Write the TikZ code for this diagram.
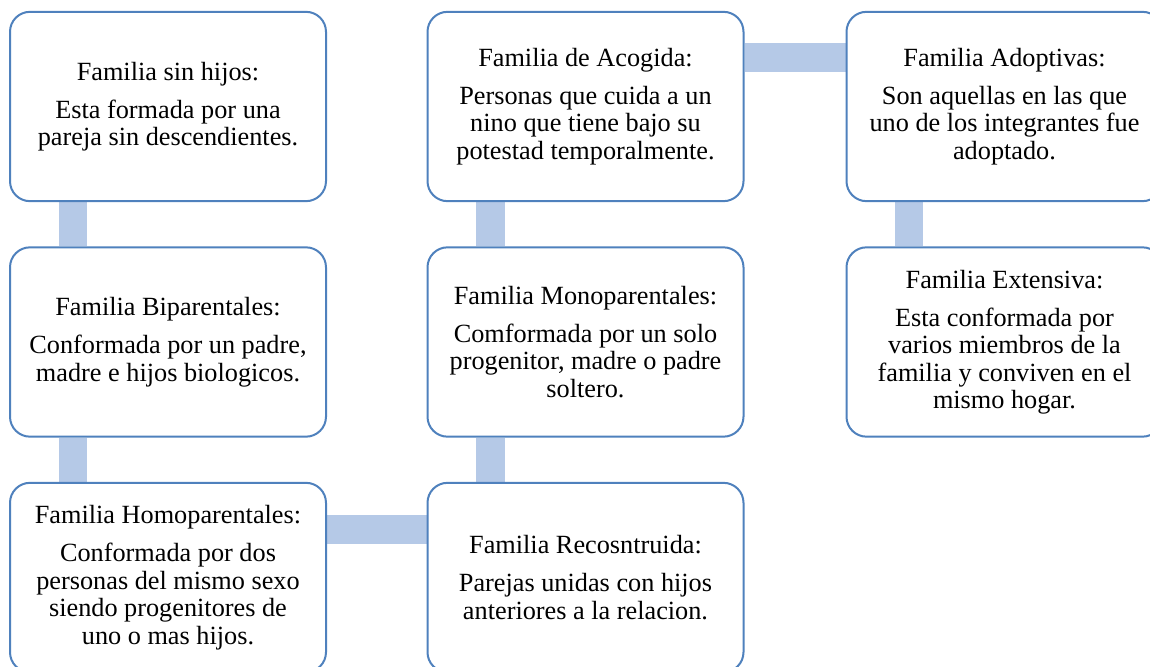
\documentclass[tikz,border=0pt]{standalone}
\usepackage{fontspec}
\setmainfont{Liberation Serif}
\usetikzlibrary{backgrounds}
\definecolor{boxblue}{RGB}{79,129,189}
\definecolor{barblue}{RGB}{181,201,231}
\tikzset{
  famBox/.style={draw=boxblue, line width=1.5pt, fill=white, rounded corners=15pt,
    minimum width=237pt, minimum height=142pt, inner sep=0pt, align=center,
    font=\fontsize{19.7pt}{20.6pt}\selectfont},
  famBar/.style={draw=barblue, line width=21.5pt},
}
\begin{document}
\begin{tikzpicture}[x=0.75pt,y=-0.75pt]
\useasboundingbox (0,0) rectangle (1150,667);
\node[famBox] (sin) at (168,106.5) {Familia sin hijos:\\[7.9pt] Esta formada por una\\ pareja sin descendientes.};
\node[famBox] (bip) at (168,342) {Familia Biparentales:\\[7.9pt] Conformada por un padre,\\ madre e hijos biologicos.};
\node[famBox] (homo) at (168,577.5) {Familia Homoparentales:\\[7.9pt] Conformada por dos\\ personas del mismo sexo\\ siendo progenitores de\\ uno o mas hijos.};
\node[famBox] (acog) at (585.5,106.5) {Familia de Acogida:\\[7.9pt] Personas que cuida a un\\ nino que tiene bajo su\\ potestad temporalmente.};
\node[famBox] (mono) at (585.5,342) {Familia Monoparentales:\\[7.9pt] Comformada por un solo\\ progenitor, madre o padre\\ soltero.};
\node[famBox] (reco) at (585.5,577.5) {Familia Recosntruida:\\[7.9pt] Parejas unidas con hijos\\ anteriores a la relacion.};
\node[famBox] (adop) at (1004.5,106.5) {Familia Adoptivas:\\[7.9pt] Son aquellas en las que\\ uno de los integrantes fue\\ adoptado.};
\node[famBox] (ext) at (1004.5,342) {Familia Extensiva:\\[7.9pt] Esta conformada por\\ varios miembros de la\\ familia y conviven en el\\ mismo hogar.};
\begin{scope}[on background layer]
\draw[famBar] ([xshift=48pt]sin.south west) -- ([xshift=48pt]bip.north west);
\draw[famBar] ([xshift=48pt]bip.south west) -- ([xshift=48pt]homo.north west);
\draw[famBar] ([yshift=-35.6pt]homo.north east) -- ([yshift=-35.6pt]reco.north west);
\draw[famBar] ([xshift=48pt]reco.north west) -- ([xshift=48pt]mono.south west);
\draw[famBar] ([xshift=48pt]mono.north west) -- ([xshift=48pt]acog.south west);
\draw[famBar] ([yshift=-34.9pt]acog.north east) -- ([yshift=-34.9pt]adop.north west);
\draw[famBar] ([xshift=47.5pt]adop.south west) -- ([xshift=47.5pt]ext.north west);
\end{scope}
\end{tikzpicture}
\end{document}
